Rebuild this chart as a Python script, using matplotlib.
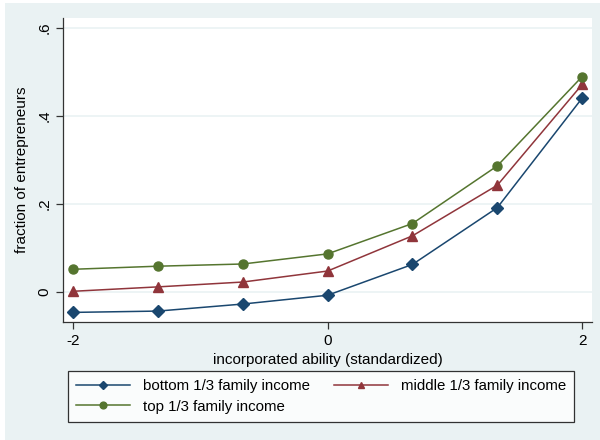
import matplotlib
matplotlib.use("Agg")
import matplotlib.pyplot as plt
from matplotlib.ticker import FixedLocator
from matplotlib.patches import Rectangle

ability = [-2, -4/3, -2/3, 0, 2/3, 4/3, 2]
bottom_third = [-0.047, -0.044, -0.028, -0.008, 0.062, 0.191, 0.440]
middle_third = [0.001, 0.011, 0.022, 0.047, 0.127, 0.242, 0.471]
top_third = [0.051, 0.058, 0.063, 0.086, 0.155, 0.286, 0.489]

series_labels = ["bottom 1/3 family income", "middle 1/3 family income", "top 1/3 family income"]
y_ticks = [0, 0.2, 0.4, 0.6]
y_tick_labels = ["0", ".2", ".4", ".6"]
x_ticks = [-2, 0, 2]
x_tick_labels = ["-2", "0", "2"]

bg = "#eaf2f3"
plt.rcParams["font.family"] = ["Liberation Sans", "DejaVu Sans"]

fig = plt.figure(figsize=(6, 4.4), dpi=100, facecolor="white")
# graph region background, inset slightly from the image edge
fig.patches.append(Rectangle((5/600, 0), 595/600, 437/440, transform=fig.transFigure,
                             facecolor=bg, edgecolor="none", zorder=-10))

ax = fig.add_axes([0.105, 0.268, 0.882, 0.691])
ax.set_facecolor("white")

l1, = ax.plot(ability, bottom_third, color="#1a476f", marker="D", markersize=6, lw=1.1, label=series_labels[0])
l2, = ax.plot(ability, middle_third, color="#90353b", marker="^", markersize=6.5, lw=1.1, label=series_labels[1])
l3, = ax.plot(ability, top_third, color="#55752f", marker="o", markersize=6.5, lw=1.1, label=series_labels[2])

ax.set_xlim(-2.079, 2.079)
ax.set_ylim(-0.069, 0.622)
ax.yaxis.set_major_locator(FixedLocator(y_ticks))
ax.set_yticklabels(y_tick_labels, rotation=90, va="center", fontsize=11)
ax.xaxis.set_major_locator(FixedLocator(x_ticks))
ax.set_xticklabels(x_tick_labels, fontsize=11)
ax.grid(axis="y", color=bg, lw=1.2)
ax.set_axisbelow(True)

for side in ["top", "right"]:
    ax.spines[side].set_visible(False)
for side in ["left", "bottom"]:
    ax.spines[side].set_color("#333333")
    ax.spines[side].set_linewidth(0.9)
ax.tick_params(direction="out", length=5, color="#333333", width=0.9)

ax.set_xlabel("incorporated ability (standardized)", fontsize=11, labelpad=4)
ax.set_ylabel("fraction of entrepreneurs", fontsize=11, labelpad=6)

# row-wise legend order: bottom, middle / top
leg = fig.legend([l1, l3, l2], [series_labels[0], series_labels[2], series_labels[1]],
                 loc="upper left", bbox_to_anchor=(68/600, 1 - 371/440),
                 ncol=2, fontsize=10.8, frameon=True, fancybox=False,
                 handlelength=3.6, borderpad=0.55, labelspacing=0.42, handletextpad=0.85,
                 columnspacing=1.6, markerscale=0.75, borderaxespad=0)
leg.get_frame().set_edgecolor("black")
leg.get_frame().set_linewidth(0.9)
leg.get_frame().set_facecolor("white")

fig.savefig("out.png", dpi=100, facecolor="white")
